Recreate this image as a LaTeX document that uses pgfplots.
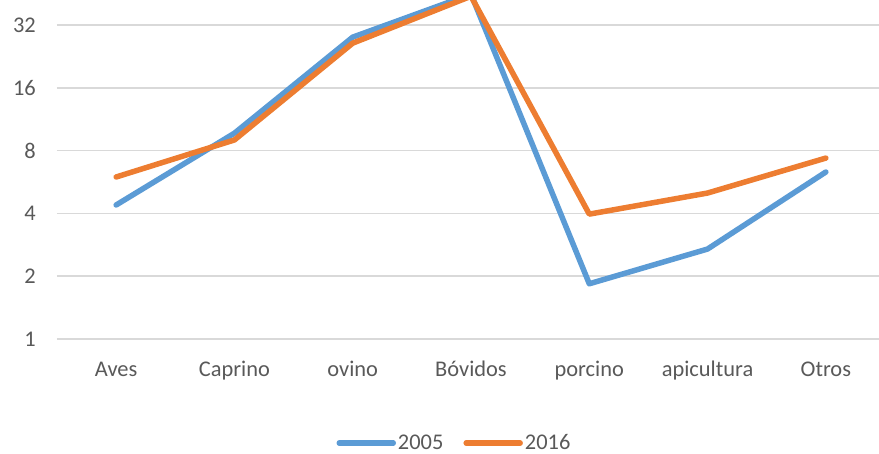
\documentclass[border=0pt]{standalone}
\usepackage{pgfplots}
\pgfplotsset{compat=1.18}
\usepackage{fontspec}
\setmainfont{Carlito}
\definecolor{b05}{HTML}{5B9BD5}
\definecolor{o16}{HTML}{ED7D31}
\definecolor{gridc}{HTML}{D9D9D9}
\definecolor{txt}{HTML}{595959}
\begin{document}
\begin{tikzpicture}
\begin{axis}[
  scale only axis, width=828bp, height=339bp,
  ymode=log, log basis y=2, ymin=1, ymax=42.2,
  xmin=-0.5, xmax=6.5,
  xtick={0,1,2,3,4,5,6},
  xticklabels={Aves,Caprino,ovino,Bóvidos,porcino,apicultura,Otros},
  ytick={1,2,4,8,16,32}, yticklabels={1,2,4,8,16,32},
  axis line style={draw=none}, major tick length=0pt,
  ymajorgrids, grid style={gridc, line width=1.6bp},
  tick label style={font=\fontsize{22.5}{27}\selectfont, text=txt, inner sep=0pt},
  yticklabel style={anchor=east, xshift=-21bp},
  xticklabel style={anchor=base, yshift=-38bp},
  clip=true,
  legend style={at={(0.480,-0.307)}, anchor=center, draw=none, fill=none,
    font=\fontsize{22.5}{27}\selectfont, text=txt, inner sep=0pt,
    legend columns=2, cells={anchor=west, inner sep=1bp},
    /tikz/every even column/.append style={column sep=18bp}},
  legend image code/.code={\draw[#1, line width=5.5bp, line cap=round] (0bp,0bp) -- (54bp,0bp);},
]
\coordinate (tl) at (rel axis cs:0,1);
\addplot[b05, line width=5.5bp, line join=round, line cap=round] coordinates {
  (0,4.39) (1,9.7) (2,28) (3,45) (4,1.84) (5,2.70) (6,6.32)};
\addlegendentry{2005}
\addplot[o16, line width=5.5bp, line join=round, line cap=round] coordinates {
  (0,5.98) (1,9.0) (2,26.2) (3,44) (4,3.97) (5,5.01) (6,7.37)};
\addlegendentry{2016}
\end{axis}
\pgfresetboundingbox
\path[use as bounding box] ([shift={(-57bp,0bp)}]tl) rectangle ([shift={(822bp,-454bp)}]tl);
\end{tikzpicture}
\end{document}
